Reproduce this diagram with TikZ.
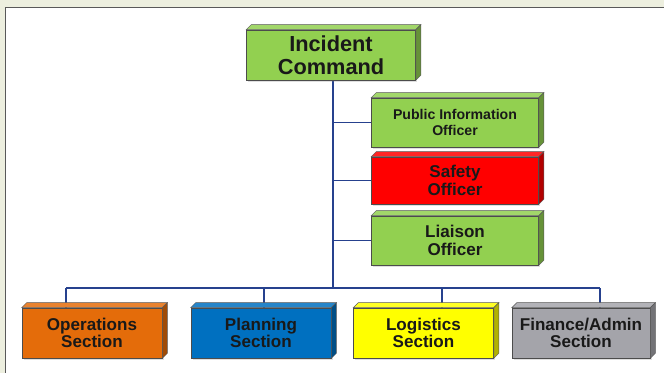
\documentclass[tikz,border=0pt]{standalone}
\usepackage{fontspec}
\setmainfont{Liberation Sans}
\usetikzlibrary{calc, positioning, backgrounds, shadows}
\definecolor{fgreen}{HTML}{92D050}
\definecolor{fred}{HTML}{FF0000}
\definecolor{forange}{HTML}{E46C0A}
\definecolor{fblue}{HTML}{0070C0}
\definecolor{fyellow}{HTML}{FFFF00}
\definecolor{fgray}{HTML}{A4A4AA}
\definecolor{dline}{HTML}{26418E}
\definecolor{frame}{HTML}{EDEFDF}
\newcommand\px{0.85pt}
% top and right faces of a box
\newcommand\extrude[2]{
\fill[#2!85!white,draw=black!65,line width=.4pt] (#1.north west)--++(5,-5)--($(#1.north east)+(5,-5)$)--(#1.north east)--cycle;
\fill[#2!70!black,draw=black!65,line width=.4pt] (#1.north east)--++(5,-5)--($(#1.south east)+(5,-5)$)--(#1.south east)--cycle;
}
\tikzset{
box/.style={draw=black!70, line width=.5pt, inner sep=0pt, align=center, minimum height=49*\px, minimum width=140*\px, text=black!90, drop shadow={shadow xshift=1.5pt, shadow yshift=-2pt, opacity=.25}, font=\bfseries\fontsize{14.5}{15}\selectfont},
conn/.style={dline, line width=.9pt}
}

\begin{document}
\begin{tikzpicture}[x=\px, y=-\px]
\useasboundingbox (0,0) rectangle (664,373);

\node[box, fill=fgreen, minimum width=169*\px, minimum height=50*\px, font=\bfseries\fontsize{18.5}{19.5}\selectfont] (ic) at (331,55) {Incident\\Command};

\node[box, fill=fgreen, minimum width=167*\px, font=\bfseries\fontsize{12}{13}\selectfont] (pio) at (455,122.5) {Public Information\\Officer};
\node[box, fill=fred, minimum width=167*\px, minimum height=47*\px] (so) at (455,180.5) {Safety\\Officer};
\node[box, fill=fgreen, minimum width=167*\px] (lo) at (455,240.5) {Liaison\\Officer};

\node[box, fill=forange, minimum height=50*\px] (ops) at (92,333) {Operations\\Section};
\node[box, fill=fblue, minimum height=50*\px] (plan) at (261,333) {Planning\\Section};
\node[box, fill=fyellow, minimum height=50*\px] (log) at (423.5,333) {Logistics\\Section};
\node[box, fill=fgray, minimum width=138*\px, minimum height=50*\px] (fin) at (581,333) {Finance/Admin\\Section};

\foreach \n/\c in {ic/fgreen, pio/fgreen, so/fred, lo/fgreen, ops/forange, plan/fblue, log/fyellow, fin/fgray}
  \extrude{\n}{\c};

\begin{scope}[on background layer]
\fill[frame] (0,0) rectangle (664,373);
\fill[white] (5,7) rectangle (664,373);
\draw[black!65, line width=.8pt] (5,373) |- (664,7);

\coordinate (trunk) at (333,288);
\coordinate (d1) at (66,288);
\coordinate (d2) at (264,288);
\coordinate (d3) at (442,288);
\coordinate (d4) at (600,288);
\draw[conn] (trunk |- ic.south) -- (trunk);
\draw[conn] (d1) -- (d4);
\foreach \d/\n in {d1/ops, d2/plan, d3/log, d4/fin}
  \draw[conn] (\d) -- (\d |- \n.north);
\foreach \n in {pio, so, lo}
  \draw[conn] (trunk |- \n.west) -- (\n.west);
\end{scope}

\end{tikzpicture}
\end{document}
